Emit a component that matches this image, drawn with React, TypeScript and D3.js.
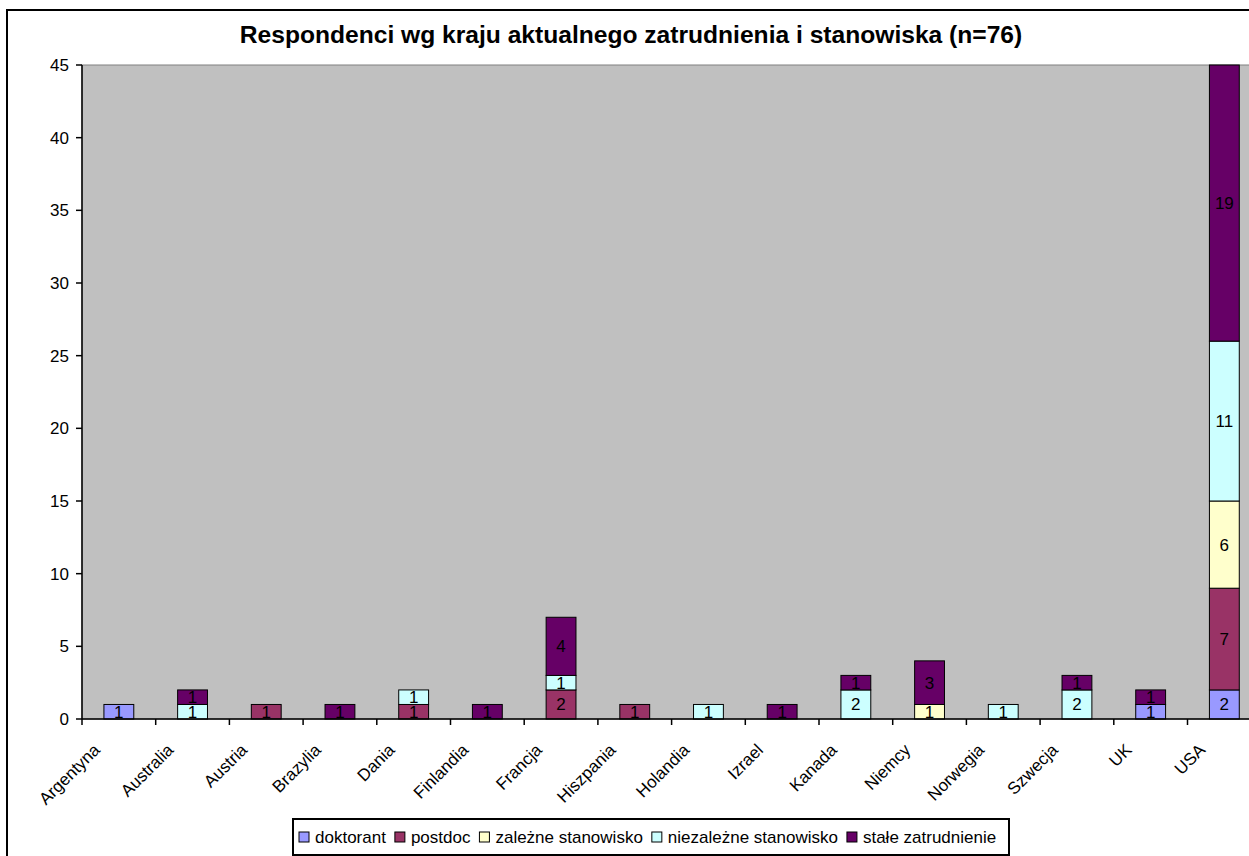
import React from "react";
import * as d3 from "d3";

const title = "Respondenci wg kraju aktualnego zatrudnienia i stanowiska (n=76)";
const countries = ["Argentyna","Australia","Austria","Brazylia","Dania","Finlandia","Francja","Hiszpania","Holandia","Izrael","Kanada","Niemcy","Norwegia","Szwecja","UK","USA"];
const seriesNames = ["doktorant","postdoc","zależne stanowisko","niezależne stanowisko","stałe zatrudnienie"];
const seriesColors = ["#9999FF","#993366","#FFFFCC","#CCFFFF","#660066"];
const doktorant =   [1,0,0,0,0,0,0,0,0,0,0,0,0,0,1,2];
const postdoc =     [0,0,1,0,1,0,2,1,0,0,0,0,0,0,0,7];
const zalezne =     [0,0,0,0,0,0,0,0,0,0,0,1,0,0,0,6];
const niezalezne =  [0,1,0,0,1,0,1,0,1,0,2,0,1,2,0,11];
const stale =       [0,1,0,1,0,1,4,0,0,1,1,3,0,1,1,19];
const yTicks = [0,5,10,15,20,25,30,35,40,45];

const FONT = "'Liberation Sans', Arial, sans-serif";

function measure(text: string, size: number) {
  const c = document.createElement("canvas").getContext("2d")!;
  c.font = `${size}px 'Liberation Sans', Arial, sans-serif`;
  return c.measureText(text).width;
}

export default function App() {
  const W = 1249, H = 856;
  const left = 82, top = 65, bottom = 719;
  const bandW = 73.7;
  const right = left + bandW * countries.length;
  const x = d3.scaleBand<string>().domain(countries).range([left, right]).padding(0);
  const y = d3.scaleLinear().domain([0, 45]).range([bottom, top]);
  const seriesVals = [doktorant, postdoc, zalezne, niezalezne, stale];
  const table = countries.map((c, i) => {
    const o: any = { country: c };
    seriesNames.forEach((s, k) => (o[s] = seriesVals[k][i]));
    return o;
  });
  const stacked = d3.stack<any>().keys(seriesNames)(table);
  const barW = x.bandwidth() * 0.405;

  const legFont = 17;
  const sq = 10;
  let lx = 299;
  const legItems = seriesNames.map((s, k) => {
    const item = { s, k, x: lx };
    lx += sq + 6 + measure(s, legFont) + 9;
    return item;
  });

  return (
    <svg width={W} height={H} style={{ position: "absolute", left: 0, top: 0, fontFamily: FONT }}>
      <rect x={0} y={0} width={W} height={H} fill="#fff" />
      <rect x={7} y={10} width={W + 20} height={H + 20} fill="none" stroke="#000" strokeWidth={2} />
      <text x={631} y={43} textAnchor="middle" fontSize={24.6} fontWeight="bold">{title}</text>
      <rect x={left} y={top} width={right - left} height={bottom - top} fill="#C0C0C0" stroke="#808080" strokeWidth={1} />
      {stacked.map((layer, k) =>
        layer.map((d, i) => {
          const v = d[1] - d[0];
          if (!v) return null;
          const cx = x(countries[i])! + x.bandwidth() / 2;
          return (
            <g key={`${k}-${i}`}>
              <rect x={cx - barW / 2} y={y(d[1])} width={barW} height={y(d[0]) - y(d[1])}
                fill={seriesColors[k]} stroke="#000" strokeWidth={1} />
              <text x={cx} y={(y(d[0]) + y(d[1])) / 2 + 6} textAnchor="middle" fontSize={17} fill="#000">{v}</text>
            </g>
          );
        })
      )}
      <line x1={left} x2={left} y1={top} y2={bottom} stroke="#000" strokeWidth={1.5} />
      <line x1={left} x2={right} y1={bottom} y2={bottom} stroke="#000" strokeWidth={1.5} />
      {yTicks.map((t) => (
        <g key={t}>
          <line x1={left - 6} x2={left} y1={y(t)} y2={y(t)} stroke="#000" strokeWidth={1.5} />
          <text x={69} y={y(t) + 6} textAnchor="end" fontSize={17}>{t}</text>
        </g>
      ))}
      {countries.map((c) => (
        <line key={c} x1={x(c)!} x2={x(c)!} y1={bottom} y2={bottom + 6} stroke="#000" strokeWidth={1.5} />
      ))}
      {countries.map((c) => {
        const cx = x(c)! + x.bandwidth() / 2;
        return (
          <text key={c} transform={`translate(${cx - 18},${bottom + 32}) rotate(-45)`} textAnchor="end" fontSize={17}>{c}</text>
        );
      })}
      <rect x={293} y={819} width={716} height={36} fill="#fff" stroke="#000" strokeWidth={2} />
      {legItems.map((it) => (
        <g key={it.s}>
          <rect x={it.x} y={832} width={sq} height={sq} fill={seriesColors[it.k]} stroke="#000" strokeWidth={1} />
          <text x={it.x + sq + 6} y={843} fontSize={legFont}>{it.s}</text>
        </g>
      ))}
    </svg>
  );
}
